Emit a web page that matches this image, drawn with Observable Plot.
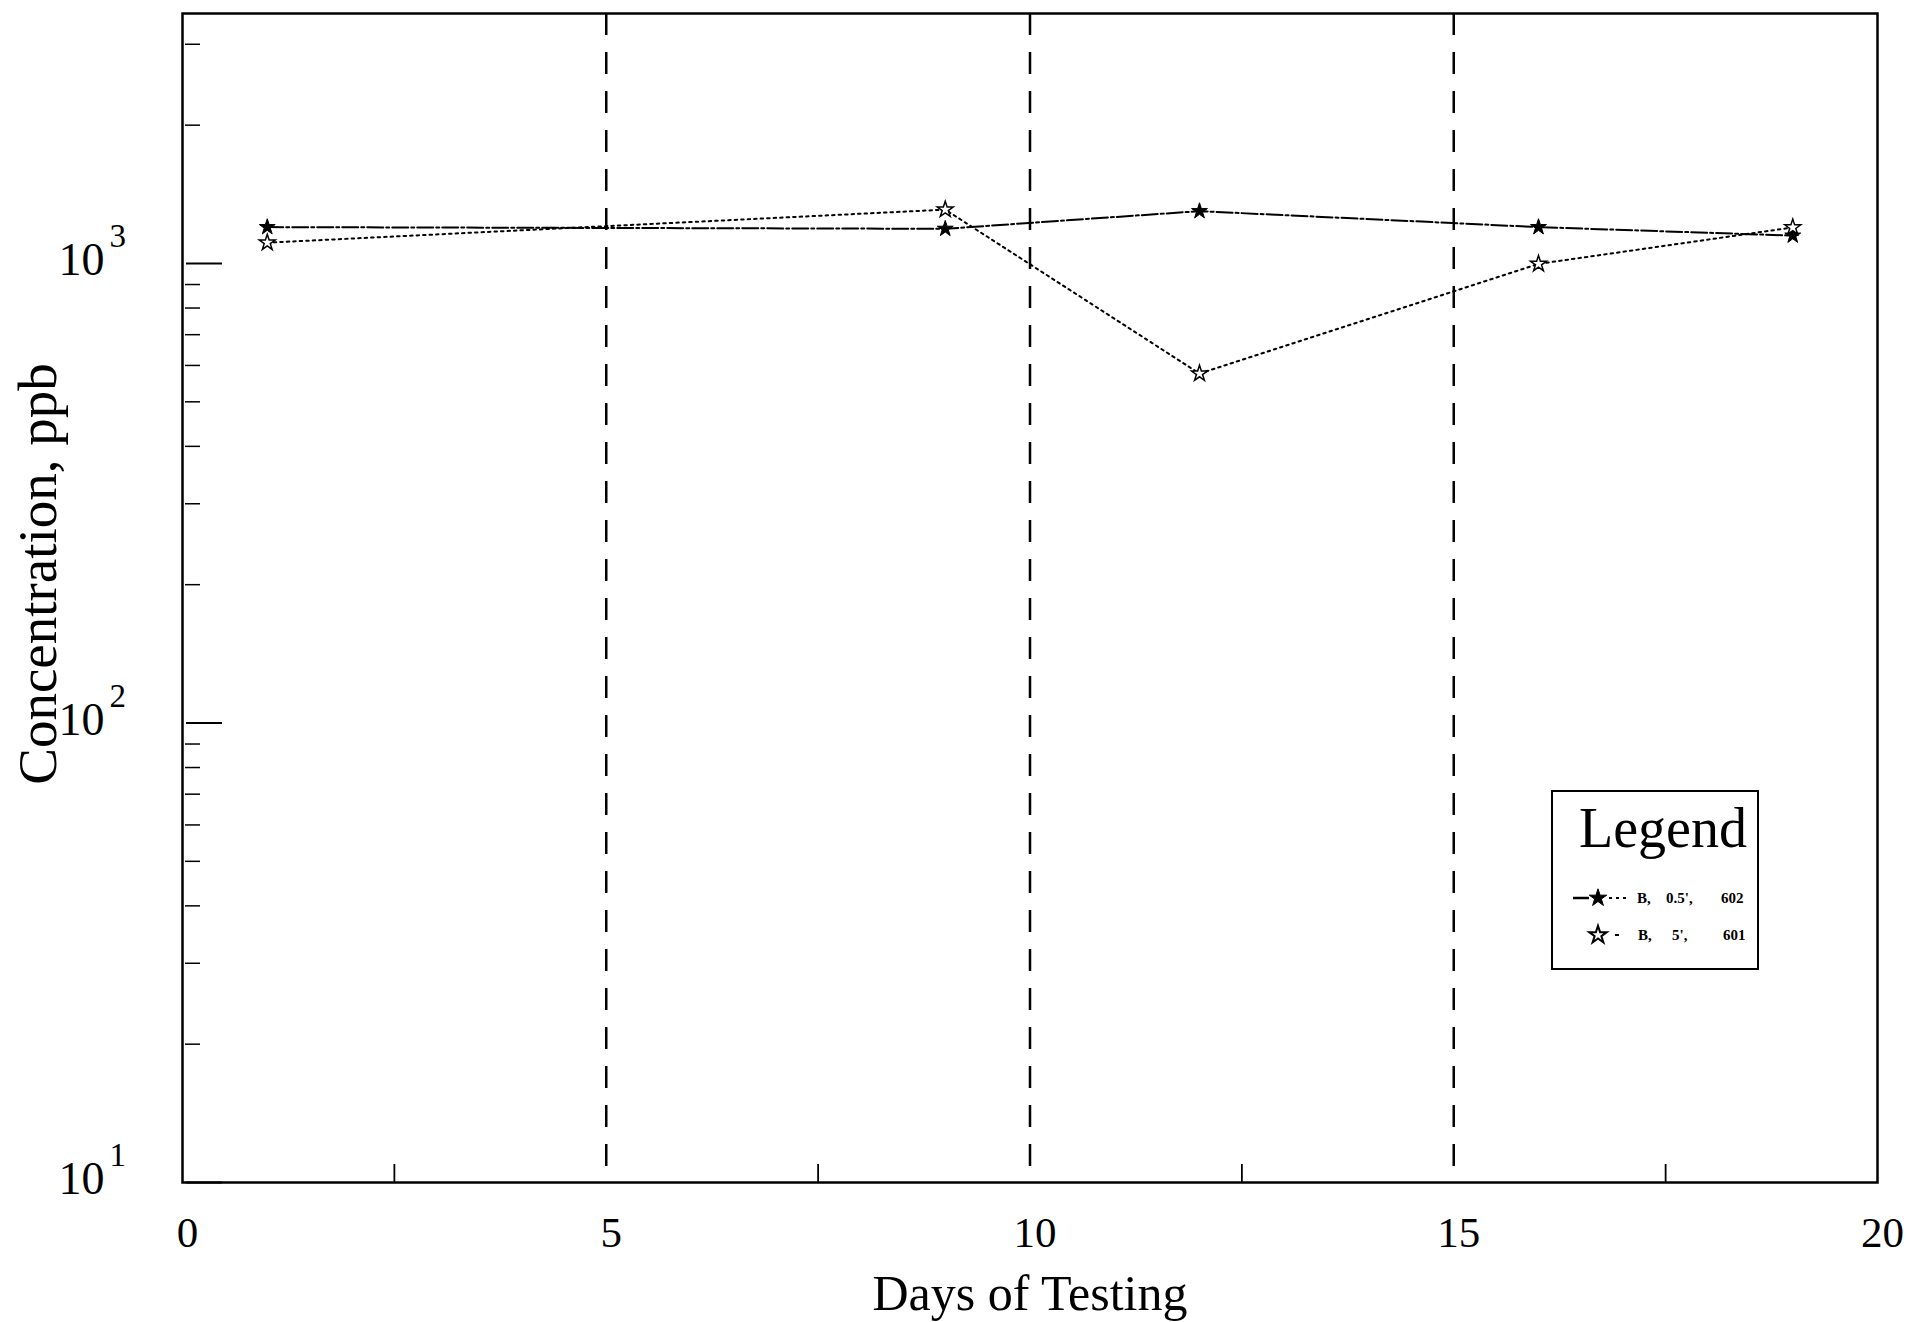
<!DOCTYPE html>
<html><head><meta charset="utf-8">
<script src="https://cdn.jsdelivr.net/npm/d3@7"></script>
<script src="https://cdn.jsdelivr.net/npm/@observablehq/plot@0.6"></script>
<style>
body{margin:0;background:#fff;}
#wrap{position:relative;width:1908px;height:1322px;background:#fff;}
#legend{position:absolute;left:1551px;top:790px;width:204px;height:176px;border:2px solid #000;background:#fff;}
#legend svg{position:absolute;left:0;top:0;}
</style></head><body><div id="wrap"></div>
<script>
// ---- data ----
const days = [1, 9, 12, 16, 19];
const sample602 = [1200, 1190, 1300, 1200, 1150];   // filled star
const sample601 = [1110, 1310, 576, 998, 1198];     // open star
const seriesNames = ["B, 0.5', 602", "B, 5', 601"];
const seriesParts = [["B,", "0.5',", "602"], ["B,", "5',", "601"]];
const xTicks = [0, 5, 10, 15, 20];
const xMinorTicks = [2.5, 7.5, 12.5, 17.5];
const phaseLines = [5, 10, 15];
const yMajor = [10, 100, 1000];
const yExponents = ["1", "2", "3"];
const yMinor = [20, 30, 40, 50, 60, 70, 80, 90, 200, 300, 400, 500, 600, 700, 800, 900, 2000, 3000];

const rows602 = days.map((d, i) => ({day: d, value: sample602[i]}));
const rows601 = days.map((d, i) => ({day: d, value: sample601[i]}));
const yTickRows = yMajor.map((v, i) => ({value: v, base: "10", exp: yExponents[i]}));

const W = 1908, H = 1322, mL = 182, mR = 31, mT = 13, mB = 140;
const frameW = W - mL - mR, frameH = H - mT - mB;
const serif = "Liberation Serif";

const plot = Plot.plot({
  width: W, height: H,
  marginLeft: mL, marginRight: mR, marginTop: mT, marginBottom: mB,
  style: {fontFamily: serif, background: "#fff", color: "#000"},
  x: {domain: [0, 20], axis: null},
  y: {type: "log", domain: [10, 3500], axis: null},
  marks: [
    Plot.ruleX(phaseLines, {x: d => d, stroke: "#000", strokeWidth: 2.5, strokeDasharray: "22,17"}),
    Plot.tickY(yMinor, {y: d => d, stroke: "#000", strokeWidth: 1.5, insetLeft: 3, insetRight: frameW - 18}),
    Plot.tickY(yMajor, {y: d => d, stroke: "#000", strokeWidth: 1.8, insetLeft: 4, insetRight: frameW - 40}),
    Plot.tickX(xMinorTicks, {x: d => d, stroke: "#000", strokeWidth: 1.8, insetTop: frameH - 18}),
    Plot.frame({stroke: "#000", strokeWidth: 2.5}),
    Plot.line(rows602, {x: "day", y: "value", stroke: "#000", strokeWidth: 2, strokeDasharray: "16,3,3,3"}),
    Plot.line(rows601, {x: "day", y: "value", stroke: "#000", strokeWidth: 2, strokeDasharray: "2.5,4"}),
    Plot.dot(rows602, {x: "day", y: "value", symbol: "star", r: 5, fill: "#000", stroke: "#000", strokeWidth: 1}),
    Plot.dot(rows601, {x: "day", y: "value", symbol: "star", r: 5, fill: "#fff", stroke: "#000", strokeWidth: 1.5}),
    Plot.text(yTickRows, {y: "value", text: "base", frameAnchor: "left", textAnchor: "end", dx: -78, dy: -3, fontSize: 46, fill: "#000"}),
    Plot.text(yTickRows, {y: "value", text: "exp", frameAnchor: "left", textAnchor: "start", dx: -73, dy: -27, fontSize: 33, fill: "#000"}),
    Plot.text(xTicks, {x: d => d, text: d => String(d), frameAnchor: "bottom", lineAnchor: "top", dy: 34, dx: 5, fontSize: 43, fill: "#000"}),
    Plot.text(["Days of Testing"], {text: d => d, frameAnchor: "bottom", lineAnchor: "top", dy: 92, fontSize: 50, fill: "#000"}),
    Plot.text(["Concentration, ppb"], {text: d => d, frameAnchor: "left", textAnchor: "middle", rotate: -90, dx: -144, dy: -24, fontSize: 55, fill: "#000"})
  ]
});
const wrap = document.getElementById("wrap");
wrap.appendChild(plot);

// ---- legend ----
const leg = document.createElement("div");
leg.id = "legend";
wrap.appendChild(leg);
const svg = d3.select(leg).append("svg").attr("width", 204).attr("height", 176)
  .style("font-family", serif);
svg.append("text").attr("x", 110).attr("y", 55).attr("text-anchor", "middle")
  .attr("font-size", 56).text("Legend");
const starPath = d3.symbol(d3.symbolStar, 95)();
const rowY = [106, 143];
// row 1: dash-dot line with filled star
svg.append("line").attr("x1", 20).attr("x2", 36).attr("y1", rowY[0]).attr("y2", rowY[0])
  .attr("stroke", "#000").attr("stroke-width", 2.5);
svg.append("line").attr("x1", 56).attr("x2", 76).attr("y1", rowY[0]).attr("y2", rowY[0])
  .attr("stroke", "#000").attr("stroke-width", 2).attr("stroke-dasharray", "3,4");
svg.append("path").attr("d", starPath).attr("transform", `translate(45,${rowY[0]})`)
  .attr("fill", "#000").attr("stroke", "#000");
// row 2: dotted with open star
svg.append("line").attr("x1", 62).attr("x2", 66).attr("y1", rowY[1]).attr("y2", rowY[1])
  .attr("stroke", "#000").attr("stroke-width", 2);
svg.append("path").attr("d", starPath).attr("transform", `translate(45,${rowY[1]})`)
  .attr("fill", "#fff").attr("stroke", "#000").attr("stroke-width", 2);
const partX = [[84, 113, 168], [85, 119, 170]];
seriesParts.forEach((parts, r) => {
  parts.forEach((p, j) => {
    svg.append("text").attr("x", partX[r][j]).attr("y", rowY[r] + 5)
      .attr("font-size", 15).attr("font-weight", "bold").text(p);
  });
});
</script>
</body></html>
